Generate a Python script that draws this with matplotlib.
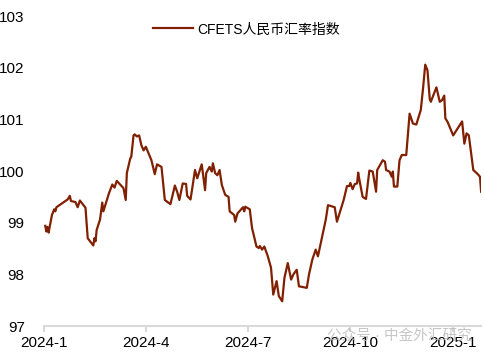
import matplotlib
matplotlib.use("Agg")
import matplotlib.pyplot as plt
from matplotlib import dates as mdates
import pandas as pd

plt.rcParams['font.family'] = ['Liberation Sans', 'Noto Sans CJK SC', 'DejaVu Sans']

# CFETS index
dates = [
    '2024-01-02', '2024-01-03', '2024-01-04', '2024-01-05', '2024-01-08', '2024-01-10',
    '2024-01-11', '2024-01-12', '2024-01-22', '2024-01-24', '2024-01-25', '2024-01-29',
    '2024-01-31', '2024-02-02', '2024-02-07', '2024-02-09', '2024-02-14', '2024-02-15',
    '2024-02-16', '2024-02-17', '2024-02-20', '2024-02-22', '2024-02-23', '2024-02-28',
    '2024-03-02', '2024-03-04', '2024-03-06', '2024-03-12', '2024-03-14', '2024-03-15',
    '2024-03-18', '2024-03-19', '2024-03-21', '2024-03-22', '2024-03-24', '2024-03-26',
    '2024-03-28', '2024-03-30', '2024-04-01', '2024-04-06', '2024-04-09', '2024-04-11',
    '2024-04-15', '2024-04-18', '2024-04-23', '2024-04-27', '2024-04-29', '2024-05-01',
    '2024-05-04', '2024-05-07', '2024-05-08', '2024-05-11', '2024-05-15', '2024-05-17',
    '2024-05-21', '2024-05-24', '2024-05-25', '2024-05-28', '2024-05-30', '2024-05-31',
    '2024-06-02', '2024-06-04', '2024-06-06', '2024-06-08', '2024-06-11', '2024-06-14',
    '2024-06-15', '2024-06-19', '2024-06-20', '2024-06-22', '2024-06-27', '2024-06-28',
    '2024-06-29', '2024-07-03', '2024-07-05', '2024-07-09', '2024-07-11', '2024-07-12',
    '2024-07-14', '2024-07-16', '2024-07-19', '2024-07-22', '2024-07-24', '2024-07-27',
    '2024-07-29', '2024-08-01', '2024-08-03', '2024-08-06', '2024-08-09', '2024-08-11',
    '2024-08-14', '2024-08-16', '2024-08-23', '2024-08-25', '2024-08-28', '2024-08-31',
    '2024-09-02', '2024-09-09', '2024-09-11', '2024-09-17', '2024-09-19', '2024-09-25',
    '2024-09-28', '2024-09-30', '2024-10-01', '2024-10-03', '2024-10-05', '2024-10-07',
    '2024-10-08', '2024-10-09', '2024-10-12', '2024-10-15', '2024-10-18', '2024-10-21',
    '2024-10-24', '2024-10-25', '2024-10-30', '2024-11-01', '2024-11-02', '2024-11-05',
    '2024-11-07', '2024-11-08', '2024-11-09', '2024-11-12', '2024-11-14', '2024-11-16',
    '2024-11-20', '2024-11-23', '2024-11-26', '2024-11-29', '2024-12-03', '2024-12-05',
    '2024-12-07', '2024-12-09', '2024-12-11', '2024-12-12', '2024-12-17', '2024-12-20',
    '2024-12-22', '2024-12-24', '2024-12-25', '2024-12-27', '2025-01-01', '2025-01-09',
    '2025-01-11', '2025-01-13', '2025-01-15', '2025-01-19', '2025-01-23', '2025-01-25',
    '2025-01-26',
]
cfets = [
    98.94, 98.83, 98.92, 98.81, 99.15, 99.26,
    99.22, 99.30, 99.45, 99.52, 99.42, 99.40,
    99.30, 99.43, 99.29, 98.70, 98.56, 98.70,
    98.64, 98.86, 99.06, 99.39, 99.22, 99.57,
    99.74, 99.68, 99.81, 99.67, 99.44, 99.96,
    100.24, 100.28, 100.69, 100.71, 100.67, 100.69,
    100.50, 100.40, 100.47, 100.21, 99.94, 100.13,
    100.08, 99.44, 99.36, 99.72, 99.60, 99.44,
    99.76, 99.75, 99.52, 99.45, 100.02, 99.86,
    100.13, 99.63, 99.96, 100.08, 99.99, 100.15,
    99.96, 99.92, 100.02, 99.73, 99.54, 99.50,
    99.22, 99.15, 99.02, 99.18, 99.30, 99.22,
    99.31, 99.26, 98.90, 98.54, 98.51, 98.55,
    98.48, 98.54, 98.36, 98.13, 97.61, 97.87,
    97.58, 97.48, 97.93, 98.22, 97.90, 98.00,
    98.09, 97.77, 97.74, 98.00, 98.29, 98.48,
    98.35, 99.06, 99.34, 99.30, 99.02, 99.44,
    99.71, 99.71, 99.77, 99.65, 99.75, 99.76,
    99.97, 99.84, 99.50, 99.46, 100.01, 99.99,
    99.60, 100.02, 100.21, 100.18, 100.02, 99.99,
    99.89, 99.99, 99.70, 99.70, 100.21, 100.31,
    100.31, 101.11, 100.92, 100.90, 101.18, 101.59,
    102.06, 101.95, 101.40, 101.34, 101.62, 101.34,
    101.37, 101.46, 101.02, 100.95, 100.69, 100.96,
    100.53, 100.73, 100.69, 100.02, 99.94, 99.89,
    99.60,
]
x_ticks = ['2024-01-01', '2024-04-01', '2024-07-01', '2024-10-01', '2025-01-01']
x_labels = ['2024-1', '2024-4', '2024-7', '2024-10', '2025-1']
y_ticks = [97, 98, 99, 100, 101, 102, 103]

df = pd.DataFrame({'date': pd.to_datetime(dates), 'cfets': cfets})

fig = plt.figure(figsize=(4.85, 3.56), dpi=100)
ax = fig.add_axes([0.091, 0.084, 0.901, 0.871])
ax.plot(df['date'], df['cfets'], color='#802000', lw=1.6, label='CFETS人民币汇率指数')

ax.set_xlim(pd.Timestamp('2024-01-01'), df['date'].iloc[-1])
ax.set_ylim(97, 103)
ax.set_xticks(pd.to_datetime(x_ticks))
ax.set_xticklabels(x_labels)
ax.set_yticks(y_ticks)
ax.tick_params(axis='y', length=0, labelsize=11, pad=14)
ax.tick_params(axis='x', length=4, width=1.5, color='#D9D9D9', labelsize=11, pad=3)
for s in ['top', 'right', 'left']:
    ax.spines[s].set_visible(False)
ax.spines['bottom'].set_color('#D9D9D9')
ax.spines['bottom'].set_linewidth(1.5)

ax.legend(loc='upper center', bbox_to_anchor=(0.463, 1.02), frameon=False,
          fontsize=10, handlelength=2.9, handletextpad=0.35)

# watermark
fig.text(0.675, 0.055, '公众号 · 中金外汇研究', fontsize=10.5, color='#B8B8B8',
         alpha=0.8, ha='left', va='center')

fig.savefig('out.png', dpi=100)
